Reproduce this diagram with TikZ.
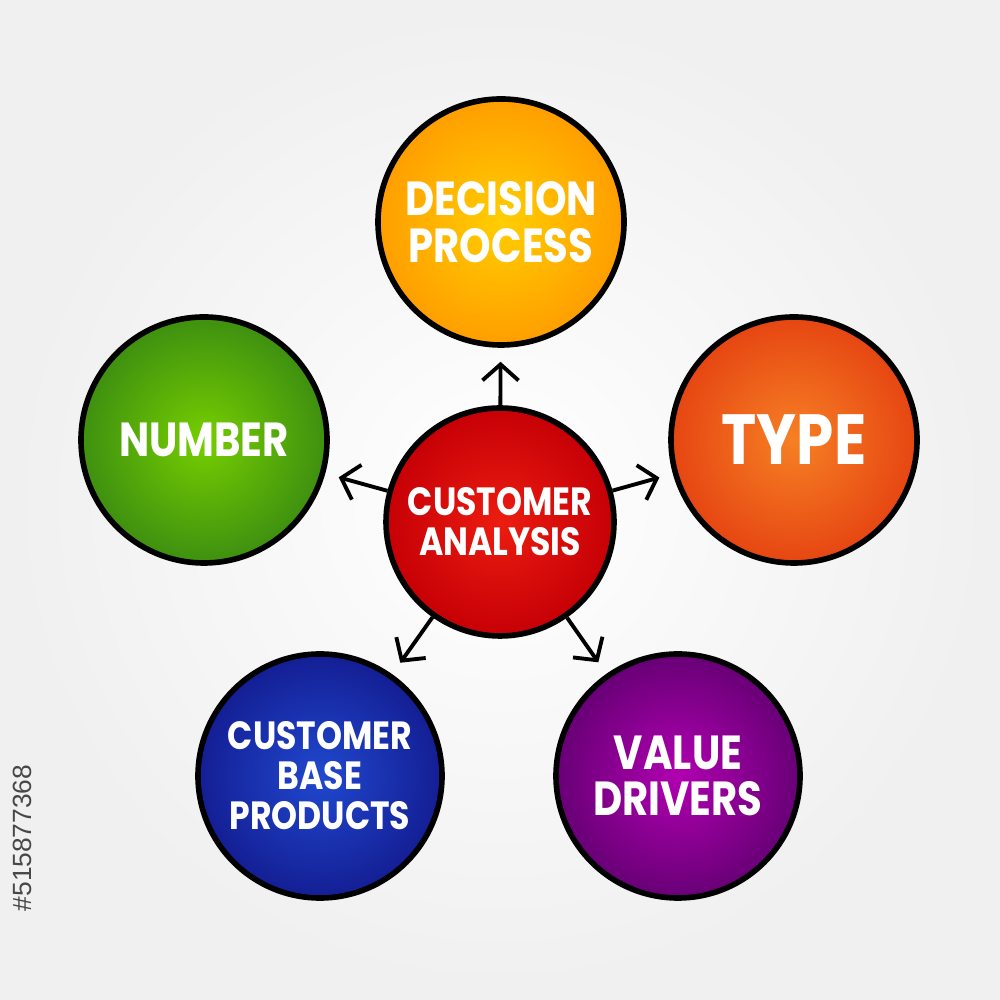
\documentclass[tikz,border=0pt]{standalone}
\usepackage{fontspec}
\setsansfont{Liberation Sans}
\newfontfamily\handfont{Poppins}[FakeStretch=0.84]
\usetikzlibrary{arrows.meta,positioning}
\definecolor{redin}{RGB}{236,28,16}
\definecolor{redout}{RGB}{198,0,6}
\definecolor{yelin}{RGB}{255,206,0}
\definecolor{yelout}{RGB}{255,158,0}
\definecolor{orgin}{RGB}{246,128,36}
\definecolor{orgout}{RGB}{230,70,18}
\definecolor{grnin}{RGB}{118,206,0}
\definecolor{grnout}{RGB}{62,144,16}
\definecolor{bluin}{RGB}{32,72,206}
\definecolor{bluout}{RGB}{20,30,148}
\definecolor{purin}{RGB}{176,0,176}
\definecolor{purout}{RGB}{104,0,118}

\begin{document}
\begin{tikzpicture}[
  ball/.style={circle, draw=black, line width=1.6pt, minimum size=#1, inner sep=0pt,
    text=white, align=center, shading=radial},
  link/.style={-{Straight Barb[length=1.6mm,width=3.6mm]}, line width=1.1pt, shorten >=1.4mm},
  mid/.style={font={\handfont\bfseries\fontsize{11.2}{11.4}\selectfont}},
  big/.style={font={\handfont\bfseries\fontsize{13.6}{13.2}\selectfont}}
]
\shade [inner color=white, outer color=black!6] (0,0) rectangle (10,10);

\node [ball=2.28cm, inner color=redin, outer color=redout, mid] (ca) at (5.00,4.78) {CUSTOMER\\ANALYSIS};
\node [ball=2.46cm, inner color=yelin, outer color=yelout, big] (dp) at (5.01,7.78) {DECISION\\PROCESS};
\node [ball=2.46cm, inner color=orgin, outer color=orgout, font={\handfont\bfseries\fontsize{20.2}{20}\selectfont}] (ty) at (7.94,5.60) {TYPE};
\node [ball=2.46cm, inner color=grnin, outer color=grnout, big] (nu) at (2.04,5.60) {NUMBER};
\node [ball=2.44cm, inner color=bluin, outer color=bluout, mid] (cb) at (3.20,2.24) {CUSTOMER\\BASE\\PRODUCTS};
\node [ball=2.44cm, inner color=purin, outer color=purout, big] (vd) at (6.78,2.24) {VALUE\\DRIVERS};

\draw [link] (ca) -- (dp);
\draw [link] (ca) -- (ty);
\draw [link] (ca) -- (nu);
\draw [link] (ca) -- (cb);
\draw [link] (ca) -- (vd);

\node [rotate=90, text=black!72, font=\sffamily\fontsize{7.5}{8}\selectfont] (id) at (0.22,1.62) {\#515877368};
\end{tikzpicture}
\end{document}
